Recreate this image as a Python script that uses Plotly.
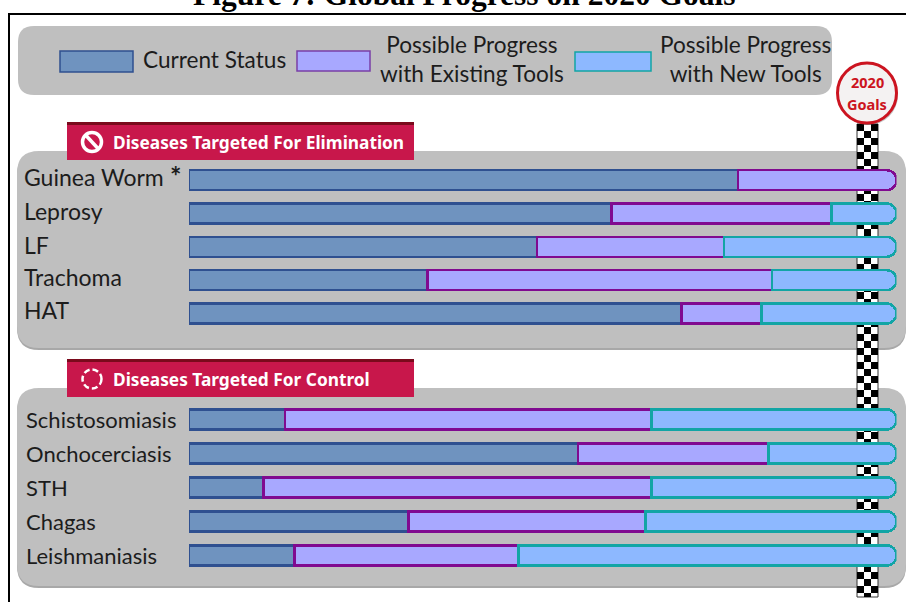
import plotly.graph_objects as go

W, H = 906, 602

groups_elim = ["Guinea Worm", "Leprosy", "LF", "Trachoma", "HAT"]
current_elim = [77.6, 59.7, 49.2, 33.7, 69.6]
existing_elim = [22.4, 31.1, 26.4, 48.7, 11.3]
new_elim = [None, 9.2, 24.4, 17.6, 19.1]

groups_ctrl = ["Schistosomiasis", "Onchocerciasis", "STH", "Chagas", "Leishmaniasis"]
current_ctrl = [13.6, 55.0, 10.5, 31.0, 14.9]
existing_ctrl = [51.8, 26.9, 54.9, 33.5, 31.7]
new_ctrl = [34.6, 18.1, 34.6, 35.5, 53.4]

SERIES = ["Current Status", "Possible Progress with Existing Tools", "Possible Progress with New Tools"]
FILL = ["#6f93bf", "#a8a8ff", "#8db8ff"]
EDGE = ["#2f5090", "#800a90", "#12a5a5"]
GRAY = "#bfbfbf"
RED = "#c8174b"
TXT = "#1c1c1c"
FONT = "Lato"
BOLD = "Noto Sans"


def fx(p):
    return p / W


def fy(p):
    return 1 - p / H


def rect(x0, y0, x1, y1, fill, line=None, lw=0):
    return dict(type="rect", xref="paper", yref="paper", x0=fx(x0), x1=fx(x1), y0=fy(y0), y1=fy(y1),
                fillcolor=fill, line=dict(color=line or fill, width=lw), layer="below")


def rrect(x0, y0, x1, y1, r, fill):
    a, b, c, d = fx(x0), fx(x1), fy(y0), fy(y1)
    rx, ry = r / W, r / H
    path = (f"M{a+rx},{c} L{b-rx},{c} Q{b},{c} {b},{c-ry} L{b},{d+ry} Q{b},{d} {b-rx},{d} "
            f"L{a+rx},{d} Q{a},{d} {a},{d+ry} L{a},{c-ry} Q{a},{c} {a+rx},{c} Z")
    return dict(type="path", xref="paper", yref="paper", path=path, fillcolor=fill,
                line=dict(width=0), layer="below")


def text(x, y, s, size, color=TXT, family=FONT, anchor="left", **kw):
    return dict(xref="paper", yref="paper", x=fx(x), y=fy(y), text=s, showarrow=False,
                xanchor=anchor, yanchor="middle", font=dict(size=size, color=color, family=family),
                align="center", **kw)


fig = go.Figure()
for i, vals in enumerate([current_elim, existing_elim, new_elim]):
    fig.add_bar(y=groups_elim, x=vals, orientation="h", name=SERIES[i], xaxis="x", yaxis="y",
                marker=dict(color=FILL[i], line=dict(color=EDGE[i], width=2.5)), showlegend=False)
for i, vals in enumerate([current_ctrl, existing_ctrl, new_ctrl]):
    fig.add_bar(y=groups_ctrl, x=vals, orientation="h", name=SERIES[i], xaxis="x2", yaxis="y2",
                marker=dict(color=FILL[i], line=dict(color=EDGE[i], width=2.5)), showlegend=False)

shapes = [
    # frame
    rect(8, 13, W + 5, 15, "#000000"),
    rect(8, 13, 10, H + 5, "#000000"),
    # legend panel
    rrect(18, 26, 832, 95, 16, GRAY),
    # panels (soft lower edge, then body)
    rrect(17, 153, 906, 350, 22, "#a8a8a8"),
    rrect(17, 151, 906, 348, 22, GRAY),
    rrect(17, 390, 906, 588, 22, "#a8a8a8"),
    rrect(17, 388, 906, 586, 22, GRAY),
]
# checkered pole
shapes.append(rect(857, 124, 878, 597, "#ffffff", "#333333", 1))
row = 0
y = 124
while y < 597:
    for col in range(3):
        if (row + col) % 2 == 0:
            shapes.append(rect(857 + col * 7, y, 857 + (col + 1) * 7, min(y + 7, 597), "#000000"))
    y += 7
    row += 1

# section tabs
for top in (122, 359):
    shapes.append(rect(67, top, 414, top + 38, RED))
    shapes.append(rect(67, top, 414, top + 3, "#7a0a1c"))

# tab icons
shapes.append(dict(type="circle", xref="paper", yref="paper", x0=fx(82.5), x1=fx(101.5), y0=fy(132.5), y1=fy(151.5),
                   line=dict(color="white", width=3.5), fillcolor="rgba(0,0,0,0)"))
shapes.append(dict(type="line", xref="paper", yref="paper", x0=fx(86), x1=fx(98), y0=fy(135.5), y1=fy(148.5),
                   line=dict(color="white", width=3.5)))
shapes.append(dict(type="circle", xref="paper", yref="paper", x0=fx(82.5), x1=fx(101.5), y0=fy(369.5), y1=fy(388.5),
                   line=dict(color="white", width=2.5, dash="6px,3px"), fillcolor="rgba(0,0,0,0)"))

# legend swatches
shapes.append(rect(60, 51, 133, 72, FILL[0], EDGE[0], 1.5))
shapes.append(rect(297, 51, 370, 71, FILL[1], "#7a3fa8", 1.5))
shapes.append(rect(575, 52, 651, 71, FILL[2], EDGE[2], 1.5))

# 2020 Goals badge
shapes.append(dict(type="circle", xref="paper", yref="paper", x0=fx(839), x1=fx(898), y0=fy(65), y1=fy(125),
                   fillcolor="rgba(90,90,90,0.35)", line=dict(width=0)))
shapes.append(dict(type="circle", xref="paper", yref="paper", x0=fx(837.5), x1=fx(896.5), y0=fy(63), y1=fy(123),
                   fillcolor="#f4f2f2", line=dict(color="#cc1420", width=3)))

ann = [
    text(465, -6, "<b>Figure 7: Global Progress on 2020 Goals</b>", 31.5, "#000000", "Liberation Serif", "center"),
    text(141, 60, "Current Status", 22.6),
    text(472, 59, "Possible Progress<br>with Existing Tools", 22.6, anchor="center"),
    text(745, 59, "Possible Progress<br>with New Tools", 22.6, anchor="center"),
    text(111, 142, "<b>Diseases Targeted For Elimination</b>", 17.3, "#ffffff", BOLD),
    text(111, 379, "<b>Diseases Targeted For Control</b>", 17.3, "#ffffff", BOLD),
    text(867, 82, "<b>2020</b>", 14.5, "#cc1420", BOLD, "center"),
    text(867, 104, "<b>Goals</b>", 14.5, "#cc1420", BOLD, "center"),
    text(168, 175, "<b>*</b>", 27, "#1c1c1c"),
]
shift_elim = [3, 2, 2, 3, 4]
for g, s in zip(groups_elim, shift_elim):
    ann.append(dict(xref="paper", yref="y", x=fx(22), y=g, text=g, showarrow=False, xanchor="left",
                    yanchor="middle", yshift=s, font=dict(size=23, color=TXT, family=FONT)))
for g in groups_ctrl:
    ann.append(dict(xref="paper", yref="y2", x=fx(24), y=g, text=g, showarrow=False, xanchor="left",
                    yanchor="middle", yshift=0, font=dict(size=22, color=TXT, family=FONT)))

axis_x = dict(domain=[fx(189), fx(896.5)], range=[0, 100], visible=False, fixedrange=True)
fig.update_layout(
    width=W, height=H, margin=dict(l=0, r=0, t=0, b=0, pad=0),
    paper_bgcolor="white", plot_bgcolor="rgba(0,0,0,0)",
    barmode="stack", bargap=0.4, barcornerradius=10,
    xaxis=dict(axis_x, anchor="y"),
    xaxis2=dict(axis_x, anchor="y2"),
    yaxis=dict(domain=[fy(333.5), fy(163.5)], categoryorder="array", categoryarray=groups_elim,
               autorange="reversed", visible=False, anchor="x"),
    yaxis2=dict(domain=[fy(572.5), fy(402.5)], categoryorder="array", categoryarray=groups_ctrl,
                autorange="reversed", visible=False, anchor="x2"),
    shapes=shapes, annotations=ann, showlegend=False,
)
fig.write_html("out.html", config=dict(displayModeBar=False),
               post_script="document.body.style.margin='0';document.body.style.overflow='hidden';")
